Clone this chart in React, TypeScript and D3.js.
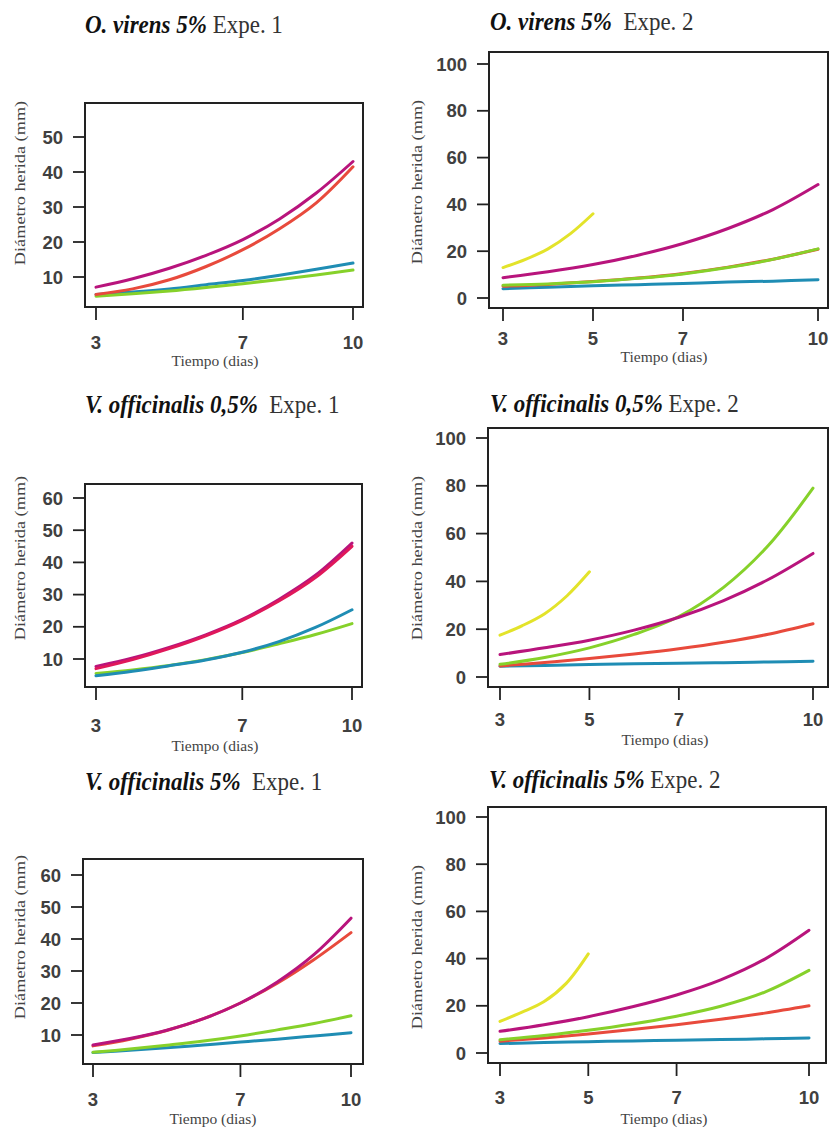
import React from 'react';
import * as d3 from 'd3';

// days on the x axis
const days = [3, 4, 5, 6, 7, 8, 9, 10];
const shortDays = [3, 3.5, 4, 4.5, 5];

// O. virens 5% Expe. 1
const p1Blue = [5, 5.7, 6.6, 7.8, 9, 10.5, 12.2, 14];
const p1Green = [4.5, 5.2, 6, 7, 8.1, 9.3, 10.6, 12];
const p1Red = [5, 6.6, 9.2, 13, 17.8, 23.8, 31.2, 41.5];
const p1Magenta = [7.1, 9.5, 12.5, 16.2, 20.7, 26.6, 34, 43];

// O. virens 5% Expe. 2
const p2Blue = [4, 4.6, 5.2, 5.7, 6.2, 6.8, 7.2, 7.8];
const p2Red = [5, 5.8, 7, 8.5, 10.5, 13.2, 16.6, 20.8];
const p2Green = [5.5, 6, 6.9, 8.4, 10.3, 13, 16.5, 21];
const p2Magenta = [8.7, 11.2, 14.3, 18.3, 23.3, 29.7, 37.8, 48.5];
const p2Yellow = [13, 16.5, 21, 27.5, 36];

// V. officinalis 0,5% Expe. 1
const p3Blue = [4.8, 6.2, 7.9, 9.7, 12.1, 15.4, 19.8, 25.3];
const p3Green = [5.5, 6.6, 8, 9.8, 12, 14.7, 17.6, 21];
const p3Red = [7, 9.8, 13.2, 17.2, 22, 28, 35.3, 45];
const p3Magenta = [7.7, 10.3, 13.6, 17.5, 22.3, 28.5, 36, 46];

// V. officinalis 0,5% Expe. 2
const p4Blue = [4.5, 4.8, 5.2, 5.5, 5.8, 6, 6.3, 6.6];
const p4Red = [4.6, 6.1, 7.7, 9.6, 11.8, 14.5, 17.9, 22.3];
const p4Green = [5.3, 8.2, 12.2, 17.8, 25.3, 37.5, 55, 79];
const p4Magenta = [9.4, 12.2, 15.4, 19.6, 25, 32, 40.8, 51.7];
const p4Yellow = [17.5, 21.5, 26.5, 34, 44];

// V. officinalis 5% Expe. 1
const p5Blue = [4.5, 5.2, 6, 6.9, 7.8, 8.7, 9.7, 10.7];
const p5Green = [4.6, 5.6, 6.8, 8.1, 9.7, 11.6, 13.6, 16];
const p5Red = [6.6, 8.7, 11.4, 15.1, 20, 26.2, 33.6, 42];
const p5Magenta = [6.9, 8.9, 11.5, 15.1, 20, 26.6, 35.2, 46.5];

// V. officinalis 5% Expe. 2
const p6Blue = [4, 4.4, 4.8, 5.1, 5.4, 5.7, 6, 6.4];
const p6Red = [5, 6.4, 8.1, 10, 12, 14.3, 16.9, 20];
const p6Green = [5.6, 7.4, 9.6, 12.3, 15.6, 19.8, 25.8, 35];
const p6Magenta = [9.2, 12, 15.4, 19.6, 24.6, 31, 39.8, 52];
const p6Yellow = [13.4, 17.3, 21.8, 29.5, 42];

const xTicks = [[3, 7, 10], [3, 5, 7, 10]];
const yTicksLeft = [[10, 20, 30, 40, 50], [10, 20, 30, 40, 50, 60], [10, 20, 30, 40, 50, 60]];
const yTicksRight = [0, 20, 40, 60, 80, 100];

const titleBold = ['O. virens 5%', 'O. virens 5%', 'V. officinalis 0,5%', 'V. officinalis 0,5%', 'V. officinalis 5%', 'V. officinalis 5%'];
const titleRest = [' Expe. 1', '\u00a0 Expe. 2', '\u00a0 Expe. 1', ' Expe. 2', '\u00a0 Expe. 1', ' Expe. 2'];

const colors = {
  blue: '#1f8db4',
  green: '#86d12a',
  red: '#e84a3c',
  magenta: '#b8147c',
  yellow: '#e3e32a',
};

type Layout = {
  L: number; R: number; T: number; B: number;
  x3: number; x10: number;
  yDom: [number, number]; yRange: [number, number];
  yTicks: number[]; xTicks: number[];
  titleX: number; titleY: number;
  ylabX: number; ylabY: number;
  xlabX: number; xlabY: number;
  tickLabY: number;
};

const layouts: Layout[] = [
  { L: 85, R: 363, T: 103, B: 307, x3: 96, x10: 353, yDom: [10, 50], yRange: [277, 137], yTicks: yTicksLeft[0], xTicks: xTicks[0], titleX: 85, titleY: 33, ylabX: 25, ylabY: 183, xlabX: 215, xlabY: 366, tickLabY: 349 },
  { L: 489, R: 828, T: 52, B: 308, x3: 503, x10: 818, yDom: [0, 100], yRange: [298, 64], yTicks: yTicksRight, xTicks: xTicks[1], titleX: 490, titleY: 30, ylabX: 422, ylabY: 182, xlabX: 664, xlabY: 362, tickLabY: 345 },
  { L: 85, R: 362, T: 484, B: 687, x3: 96, x10: 352, yDom: [10, 60], yRange: [659, 498], yTicks: yTicksLeft[1], xTicks: xTicks[0], titleX: 85, titleY: 413, ylabX: 25, ylabY: 558, xlabX: 215, xlabY: 751, tickLabY: 732 },
  { L: 488, R: 828, T: 428, B: 687, x3: 500, x10: 813, yDom: [0, 100], yRange: [677, 438], yTicks: yTicksRight, xTicks: xTicks[1], titleX: 490, titleY: 412, ylabX: 422, ylabY: 558, xlabX: 665, xlabY: 745, tickLabY: 726 },
  { L: 83, R: 363, T: 859, B: 1064, x3: 93, x10: 351, yDom: [10, 60], yRange: [1035, 875], yTicks: yTicksLeft[2], xTicks: xTicks[0], titleX: 85, titleY: 790, ylabX: 25, ylabY: 937, xlabX: 213, xlabY: 1124, tickLabY: 1106 },
  { L: 488, R: 826, T: 807, B: 1063, x3: 500, x10: 809, yDom: [0, 100], yRange: [1053, 817], yTicks: yTicksRight, xTicks: xTicks[1], titleX: 489, titleY: 788, ylabX: 422, ylabY: 947, xlabX: 664, xlabY: 1124, tickLabY: 1104 },
];

type Series = { xs: number[]; ys: number[]; color: string };

const panelSeries: Series[][] = [
  [
    { xs: days, ys: p1Blue, color: colors.blue },
    { xs: days, ys: p1Green, color: colors.green },
    { xs: days, ys: p1Red, color: colors.red },
    { xs: days, ys: p1Magenta, color: colors.magenta },
  ],
  [
    { xs: days, ys: p2Blue, color: colors.blue },
    { xs: days, ys: p2Red, color: colors.red },
    { xs: days, ys: p2Green, color: colors.green },
    { xs: days, ys: p2Magenta, color: colors.magenta },
    { xs: shortDays, ys: p2Yellow, color: colors.yellow },
  ],
  [
    { xs: days, ys: p3Green, color: colors.green },
    { xs: days, ys: p3Blue, color: colors.blue },
    { xs: days, ys: p3Magenta, color: colors.magenta },
    { xs: days, ys: p3Red, color: '#e0185a' },
  ],
  [
    { xs: days, ys: p4Blue, color: colors.blue },
    { xs: days, ys: p4Red, color: colors.red },
    { xs: days, ys: p4Green, color: colors.green },
    { xs: days, ys: p4Magenta, color: colors.magenta },
    { xs: shortDays, ys: p4Yellow, color: colors.yellow },
  ],
  [
    { xs: days, ys: p5Blue, color: colors.blue },
    { xs: days, ys: p5Green, color: colors.green },
    { xs: days, ys: p5Red, color: colors.red },
    { xs: days, ys: p5Magenta, color: colors.magenta },
  ],
  [
    { xs: days, ys: p6Blue, color: colors.blue },
    { xs: days, ys: p6Red, color: colors.red },
    { xs: days, ys: p6Green, color: colors.green },
    { xs: days, ys: p6Magenta, color: colors.magenta },
    { xs: shortDays, ys: p6Yellow, color: colors.yellow },
  ],
];

const serif = '"Liberation Serif", "Times New Roman", serif';
const sans = '"Liberation Sans", Arial, sans-serif';

function Panel({ lay, series, idx }: { lay: Layout; series: Series[]; idx: number }) {
  const x = d3.scaleLinear().domain([3, 10]).range([lay.x3, lay.x10]);
  const y = d3.scaleLinear().domain(lay.yDom).range(lay.yRange);
  const line = d3.line<[number, number]>()
    .x(d => x(d[0]))
    .y(d => y(d[1]))
    .curve(d3.curveCatmullRom.alpha(0.5));

  return (
    <g>
      <defs>
        <clipPath id={`clip${idx}`}>
          <rect x={lay.L} y={lay.T} width={lay.R - lay.L} height={lay.B - lay.T} />
        </clipPath>
      </defs>
      <g clipPath={`url(#clip${idx})`}>
        {series.map((s, i) => (
          <path key={i} d={line(s.xs.map((d, j) => [d, s.ys[j]]) as [number, number][]) || ''}
            fill="none" stroke={s.color} strokeWidth={3} strokeLinecap="round" />
        ))}
      </g>
      <rect x={lay.L} y={lay.T} width={lay.R - lay.L} height={lay.B - lay.T}
        fill="none" stroke="#222" strokeWidth={2} />
      {lay.yTicks.map(t => (
        <g key={'y' + t}>
          <line x1={lay.L - 12} x2={lay.L - 1} y1={y(t)} y2={y(t)} stroke="#222" strokeWidth={1.8} />
          <text x={lay.L - 22} y={y(t)} dy="0.36em" textAnchor="end" fontFamily={sans}
            fontWeight="bold" fontSize={18.5} fill="#404040">{t}</text>
        </g>
      ))}
      {lay.xTicks.map(t => (
        <g key={'x' + t}>
          <line x1={x(t)} x2={x(t)} y1={lay.B + 1} y2={lay.B + 13} stroke="#222" strokeWidth={1.8} />
          <text x={x(t)} y={lay.tickLabY} textAnchor="middle" fontFamily={sans}
            fontWeight="bold" fontSize={18.5} fill="#404040">{t}</text>
        </g>
      ))}
      <g transform={`translate(${lay.titleX},${lay.titleY}) scale(1,1.1)`}>
        <text x={0} y={0} fontFamily={serif} fontSize={23} fill="#111">
          <tspan fontWeight="bold" fontStyle="italic">{titleBold[idx]}</tspan>
          <tspan fill="#333">{titleRest[idx]}</tspan>
        </text>
      </g>
      <g transform={`translate(${lay.ylabX},${lay.ylabY}) rotate(-90) scale(1.18,1)`}>
        <text x={0} y={0} textAnchor="middle" fontFamily={serif} fontSize={15.5} fill="#444">
          Diámetro herida (mm)
        </text>
      </g>
      <text x={lay.xlabX} y={lay.xlabY} textAnchor="middle" fontFamily={serif} fontSize={15.5} fill="#444">
        Tiempo (dias)
      </text>
    </g>
  );
}

export default function App() {
  return (
    <svg width={829} height={1130} style={{ position: 'absolute', left: 0, top: 0, background: '#fff' }}>
      <rect width={829} height={1130} fill="#fff" />
      {layouts.map((lay, i) => (
        <Panel key={i} lay={lay} series={panelSeries[i]} idx={i} />
      ))}
    </svg>
  );
}
